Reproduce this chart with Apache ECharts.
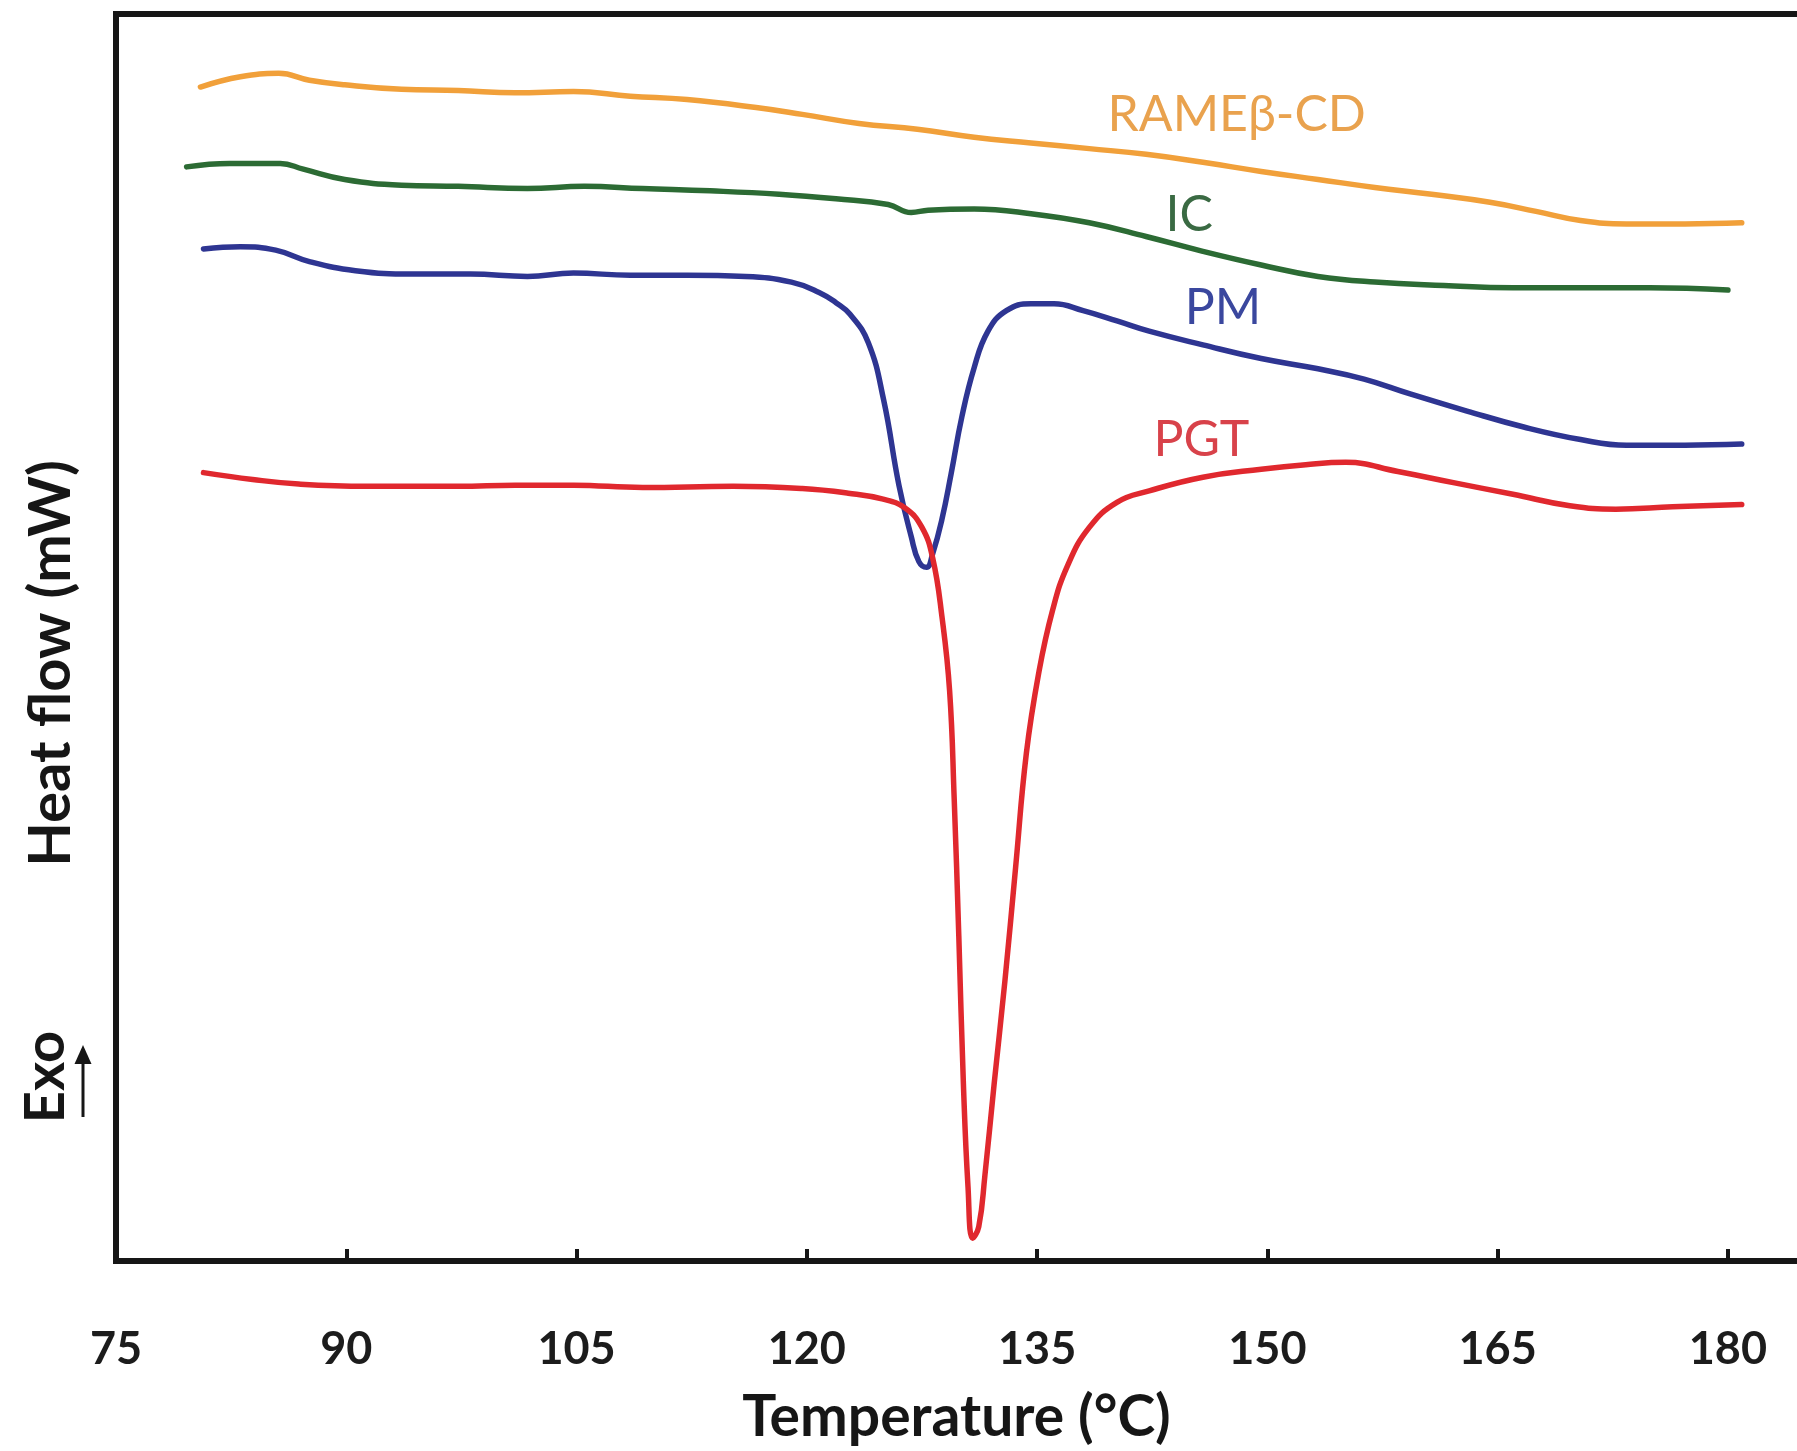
<!DOCTYPE html>
<html>
<head>
<meta charset="utf-8">
<script src="https://cdn.jsdelivr.net/npm/echarts@6/dist/echarts.min.js"></script>
<style>
  html, body { margin: 0; padding: 0; background: #ffffff; }
  #chart { width: 1797px; height: 1451px; }
</style>
</head>
<body>
<div id="chart"></div>
<script>
// Temperature axis tick labels (°C)
const tempTicks = [75, 90, 105, 120, 135, 150, 165, 180];
const tickMarks = [90, 105, 120, 135, 150, 165, 180];

// DSC heat-flow traces: [temperature °C, heat flow (offset, mW)]
const rameb = [
  [80.5,10.29],[83.1,10.38],[85.6,10.41],[87.6,10.35],[89.9,10.31],[93.6,10.27],
  [97.3,10.26],[101.0,10.24],[104.8,10.25],[108.5,10.21],[112.2,10.18],[116.7,10.11],
  [119.7,10.05],[123.4,9.97],[127.2,9.92],[130.9,9.85],[134.6,9.80],[138.4,9.75],
  [142.1,9.70],[145.8,9.63],[149.6,9.55],[153.3,9.48],[157.0,9.41],[160.7,9.35],
  [164.5,9.28],[167.5,9.20],[170.4,9.12],[173.4,9.09],[177.2,9.09],[180.9,9.10]
];
const ic = [
  [79.6,9.59],[82.4,9.62],[85.7,9.62],[87.2,9.57],[89.9,9.48],[93.6,9.43],
  [97.3,9.42],[101.8,9.40],[105.5,9.42],[109.3,9.40],[113.7,9.38],[118.2,9.35],
  [121.9,9.31],[125.3,9.26],[126.8,9.19],[127.9,9.21],[130.9,9.22],[134.6,9.18],
  [138.4,9.10],[142.1,8.98],[145.8,8.85],[149.6,8.73],[153.3,8.63],[157.0,8.58],
  [161.5,8.55],[166.0,8.53],[170.4,8.53],[174.9,8.53],[180.0,8.51]
];
const pm = [
  [80.7,8.87],[83.1,8.89],[85.4,8.86],[87.6,8.76],[90.6,8.68],[94.3,8.65],
  [98.1,8.65],[101.8,8.63],[104.8,8.66],[108.5,8.64],[112.2,8.64],[116.0,8.63],
  [119.0,8.58],[120.8,8.49],[121.9,8.40],[122.8,8.30],[124.0,8.05],[125.0,7.55],
  [126.0,6.80],[126.8,6.35],[127.3,6.13],[127.8,6.08],[128.2,6.20],[128.8,6.50],
  [129.4,6.90],[130.1,7.40],[130.9,7.83],[131.8,8.15],[133.0,8.33],[134.6,8.39],
  [136.1,8.39],[138.0,8.33],[140.2,8.24],[142.3,8.15],[145.8,8.03],[149.6,7.91],
  [153.3,7.82],[156.3,7.73],[159.3,7.60],[163.0,7.45],[166.7,7.31],[170.4,7.20],
  [173.4,7.15],[177.2,7.15],[180.9,7.16]
];
const pgt = [
  [80.7,6.91],[83.9,6.85],[86.9,6.81],[91.3,6.79],[97.3,6.79],[101.0,6.80],
  [104.8,6.80],[109.3,6.78],[115.2,6.79],[119.7,6.77],[122.7,6.73],[124.9,6.68],
  [126.4,6.60],[127.5,6.43],[128.2,6.16],[128.8,5.65],[129.3,5.00],[129.6,4.05],
  [129.9,2.85],[130.2,1.55],[130.5,0.65],[130.8,0.20],[131.2,0.30],[131.6,0.75],
  [132.2,1.55],[132.9,2.45],[133.6,3.45],[134.3,4.45],[135.1,5.15],[136.0,5.70],
  [137.0,6.10],[138.4,6.43],[140.2,6.65],[142.3,6.75],[145.8,6.87],[149.6,6.94],
  [152.5,6.98],[155.1,7.00],[158.5,6.92],[162.2,6.82],[166.0,6.72],[169.7,6.62],
  [172.7,6.59],[176.4,6.61],[180.9,6.63]
];

const seriesNames = ['RAMEβ-CD', 'IC', 'PM', 'PGT'];
const seriesData = [rameb, ic, pm, pgt];
const lineColors = ['#F1A03A', '#2C6B34', '#2E3592', '#E0282E'];
const labelColors = ['#E9A24E', '#3A6A43', '#3A479E', '#D8424A'];
// Where each trace name sits, in axis units [°C, mW]
const labelSpots = [[148.0, 10.05], [144.9, 9.17], [147.1, 8.35], [145.7, 7.20]];

const FONT = 'Lato, "Open Sans", sans-serif';
const INK = '#161616';

const chart = echarts.init(document.getElementById('chart'), null, { renderer: 'canvas' });

const series = seriesNames.map((name, i) => ({
  name: name,
  type: 'line',
  data: seriesData[i],
  showSymbol: false,
  smooth: 0.45,
  lineStyle: { color: lineColors[i], width: 5.5, cap: 'round', join: 'round' },
  z: 3,
  markPoint: {
    symbol: 'circle',
    symbolSize: 1,
    itemStyle: { color: 'rgba(0,0,0,0)' },
    label: {
      show: true,
      position: 'inside',
      formatter: name,
      fontFamily: FONT,
      fontSize: 50,
      color: labelColors[i]
    },
    data: [{ coord: labelSpots[i] }]
  }
}));

chart.setOption({
  animation: false,
  backgroundColor: '#ffffff',
  grid: { left: 116, right: 0, top: 14, bottom: 185, containLabel: false },
  xAxis: [
    {
      type: 'value',
      min: 75,
      max: 184.5,
      position: 'bottom',
      axisLine: { show: true, lineStyle: { color: INK, width: 6, cap: 'square' } },
      axisTick: {
        show: true, inside: true, length: 12,
        customValues: tickMarks,
        lineStyle: { color: INK, width: 4 }
      },
      axisLabel: {
        show: true, customValues: tempTicks, margin: 66,
        fontFamily: FONT, fontWeight: 'bold', fontSize: 45, color: '#1c1c1c'
      },
      splitLine: { show: false },
      name: 'Temperature (°C)',
      nameLocation: 'middle',
      nameGap: 128,
      nameTextStyle: { fontFamily: FONT, fontWeight: 'bold', fontSize: 57, color: INK }
    },
    {
      type: 'value',
      min: 75,
      max: 184.5,
      position: 'top',
      axisLine: { show: true, lineStyle: { color: INK, width: 6, cap: 'square' } },
      axisTick: { show: false },
      axisLabel: { show: false },
      splitLine: { show: false }
    }
  ],
  yAxis: {
    type: 'value',
    min: 0,
    max: 10.93,
    axisLine: { show: true, lineStyle: { color: INK, width: 6, cap: 'square' } },
    axisTick: { show: false },
    axisLabel: { show: false },
    splitLine: { show: false },
    name: 'Heat flow (mW)',
    nameLocation: 'middle',
    nameRotate: 90,
    nameGap: 36,
    nameTextStyle: {
      fontFamily: FONT, fontWeight: 'bold', fontSize: 58, color: INK,
      padding: [0, 52, 0, 0]
    }
  },
  series: series,
  graphic: [
    {
      type: 'text',
      x: 46, y: 1077,
      rotation: Math.PI / 2,
      style: {
        text: 'Exo', fontFamily: FONT, fontWeight: 'bold', fontSize: 56,
        fill: INK, align: 'center', verticalAlign: 'middle'
      }
    },
    {
      type: 'line',
      shape: { x1: 83, y1: 1117, x2: 83, y2: 1060 },
      style: { stroke: INK, lineWidth: 3 }
    },
    {
      type: 'polygon',
      shape: { points: [[83, 1045], [74.5, 1064], [91.5, 1064]] },
      style: { fill: INK }
    }
  ]
});
</script>
</body>
</html>
